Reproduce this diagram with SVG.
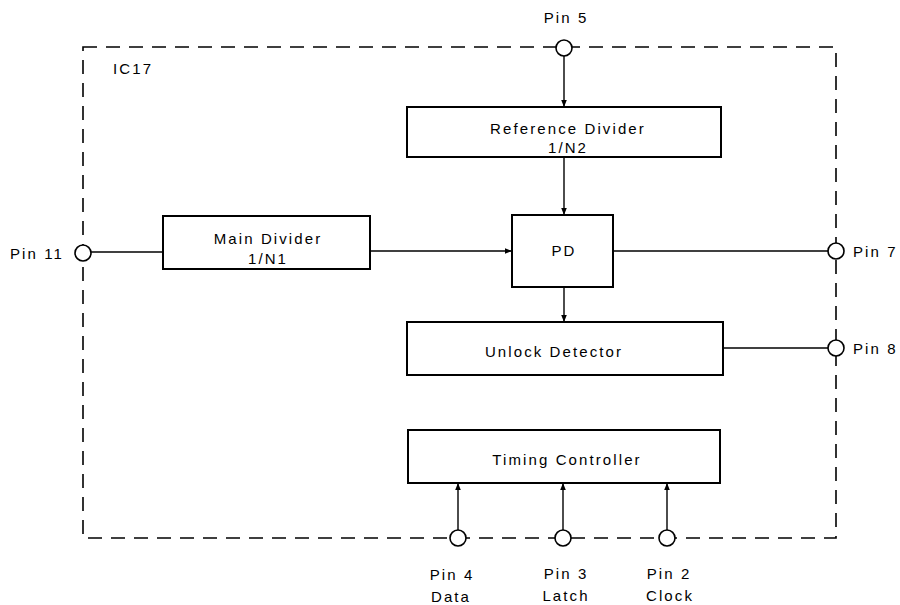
<svg xmlns="http://www.w3.org/2000/svg" width="900" height="605" viewBox="0 0 900 605">
<style>
  .box { fill: #fff; stroke: #000; stroke-width: 2; }
  .pin { fill: #fff; stroke: #000; stroke-width: 1.6; }
  .wire { fill: none; stroke: #000; stroke-width: 1.4; }
  .border { fill: none; stroke: #000; stroke-width: 1.6; stroke-dasharray: 14 9; }
  text { font-family: "Liberation Sans", Arial, sans-serif; font-size: 15px; letter-spacing: 2.1px; fill: #000; }
  .c { text-anchor: middle; }
</style>
<defs>
  <marker id="arr" viewBox="0 0 10 10" refX="10" refY="5" markerWidth="7" markerHeight="7" markerUnits="userSpaceOnUse" orient="auto">
    <path d="M0,1 L10,5 L0,9 Z" fill="#000"/>
  </marker>
</defs>
<rect width="900" height="605" fill="#fff"/>

<g id="ic17">
  <rect class="border" x="83" y="47" width="753" height="491"/>
  <text x="113" y="74">IC17</text>
</g>

<g id="connectors">
  <line class="wire" x1="564" y1="56" x2="564" y2="107" marker-end="url(#arr)"/>
  <line class="wire" x1="564" y1="157" x2="564" y2="215" marker-end="url(#arr)"/>
  <line class="wire" x1="91" y1="252" x2="163" y2="252"/>
  <line class="wire" x1="370" y1="251" x2="512" y2="251" marker-end="url(#arr)"/>
  <line class="wire" x1="613" y1="251" x2="828" y2="251"/>
  <line class="wire" x1="564" y1="287" x2="564" y2="322" marker-end="url(#arr)"/>
  <line class="wire" x1="723" y1="348" x2="828" y2="348"/>
  <line class="wire" x1="458" y1="530" x2="458" y2="483" marker-end="url(#arr)"/>
  <line class="wire" x1="563" y1="530" x2="563" y2="483" marker-end="url(#arr)"/>
  <line class="wire" x1="667" y1="530" x2="667" y2="483" marker-end="url(#arr)"/>
</g>

<g id="ref-divider">
  <rect class="box" x="407" y="107" width="314" height="50"/>
  <text class="c" x="568" y="134">Reference Divider</text>
  <text class="c" x="568" y="153">1/N2</text>
</g>

<g id="main-divider">
  <rect class="box" x="163" y="216" width="207" height="53"/>
  <text class="c" x="268" y="244">Main Divider</text>
  <text class="c" x="268" y="264">1/N1</text>
</g>

<g id="pd">
  <rect class="box" x="512" y="215" width="101" height="72"/>
  <text class="c" x="564" y="256">PD</text>
</g>

<g id="unlock-detector">
  <rect class="box" x="407" y="322" width="316" height="53"/>
  <text class="c" x="554" y="357">Unlock Detector</text>
</g>

<g id="timing-controller">
  <rect class="box" x="408" y="430" width="312" height="53"/>
  <text class="c" x="567" y="465">Timing Controller</text>
</g>

<g id="pin5">
  <circle class="pin" cx="564" cy="48" r="8"/>
  <text class="c" x="566" y="23">Pin 5</text>
</g>
<g id="pin11">
  <circle class="pin" cx="83" cy="253" r="8"/>
  <text x="10" y="259">Pin 11</text>
</g>
<g id="pin7">
  <circle class="pin" cx="836" cy="251" r="8"/>
  <text x="853" y="257">Pin 7</text>
</g>
<g id="pin8">
  <circle class="pin" cx="836" cy="348" r="8"/>
  <text x="853" y="354">Pin 8</text>
</g>
<g id="pin4">
  <circle class="pin" cx="458" cy="538" r="8"/>
  <text class="c" x="452" y="580">Pin 4</text>
  <text class="c" x="451" y="602">Data</text>
</g>
<g id="pin3">
  <circle class="pin" cx="563" cy="538" r="8"/>
  <text class="c" x="566" y="579">Pin 3</text>
  <text class="c" x="566" y="601">Latch</text>
</g>
<g id="pin2">
  <circle class="pin" cx="667" cy="538" r="8"/>
  <text class="c" x="669" y="579">Pin 2</text>
  <text class="c" x="670" y="601">Clock</text>
</g>
</svg>
